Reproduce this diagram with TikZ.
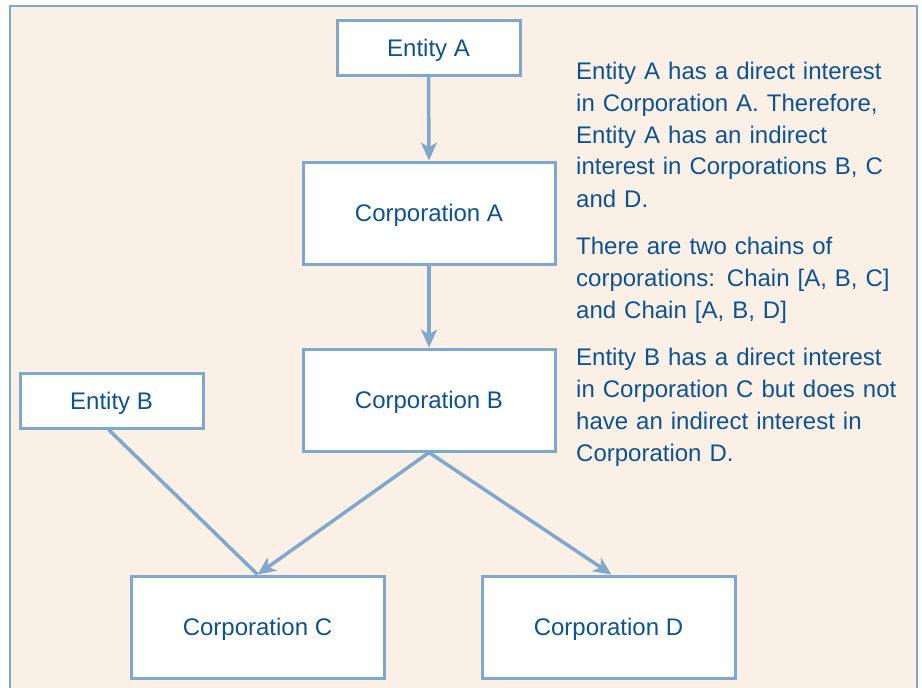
\documentclass[tikz,border=0pt]{standalone}
\usepackage{fontspec}
\setmainfont{Liberation Sans}
\usetikzlibrary{arrows.meta}
\definecolor{bgpeach}{HTML}{FBF0E6}
\definecolor{linebl}{HTML}{7FA8CC}
\definecolor{txtbl}{HTML}{0D5291}
\tikzset{
  box/.style={draw=linebl, line width=3pt, fill=white, text=txtbl,
    font=\fontsize{24}{28}\selectfont, inner sep=0pt,
    text height=17.2pt, text depth=0pt},
  smallbox/.style={box, minimum width=183pt, minimum height=55pt},
  bigbox/.style={box, minimum width=252pt, minimum height=102pt},
  conn/.style={draw=linebl, line width=3.5pt},
  arr/.style={conn, -{Stealth[length=18pt, width=16pt, inset=5pt]}},
  note/.style={text=txtbl, font=\fontsize{24}{32}\selectfont, align=left,
    text width=340pt, inner sep=0pt, anchor=base west}
}
\begin{document}
\begin{tikzpicture}[x=1pt, y=-1pt]
\useasboundingbox (0,0) rectangle (922,688);
\begin{scope}
\clip (0,0) rectangle (922,688);
\fill[white] (0,0) rectangle (922,688);
\draw[draw=linebl, line width=2.5pt, fill=bgpeach] (10,6) rectangle (917,710);
\end{scope}

\node[smallbox] (eA) at (428.5,47.5) {Entity A};
\node[bigbox] (cA) at (429,213) {Corporation A};
\node[bigbox] (cB) at (429,400) {Corporation B};
\node[smallbox] (eB) at (111.5,400.5) {Entity B};
\node[bigbox, minimum width=253pt] (cC) at (257.5,627) {Corporation C};
\node[bigbox, minimum width=253pt] (cD) at (608.5,627) {Corporation D};

\draw[arr] (eA.south) -- (cA.north);
\draw[arr] (cA.south) -- (cB.north);
\draw[conn] ([xshift=-3pt]eB.south) -- (cC.north);
\draw[arr] (cB.south) -- (cC.north);
\draw[arr] (cB.south) -- ([xshift=3pt]cD.north);

\node[note] (n1) at (576,79) {Entity A has a direct interest\\in Corporation A. Therefore,\\Entity A has an indirect\\interest in Corporations B, C\\and D.};
\node[note] (n2) at (576,254) {There are two chains of\\corporations: Chain [A, B, C]\\and Chain [A, B, D]};
\node[note] (n3) at (576,365) {Entity B has a direct interest\\in Corporation C but does not\\have an indirect interest in\\Corporation D.};
\end{tikzpicture}
\end{document}
